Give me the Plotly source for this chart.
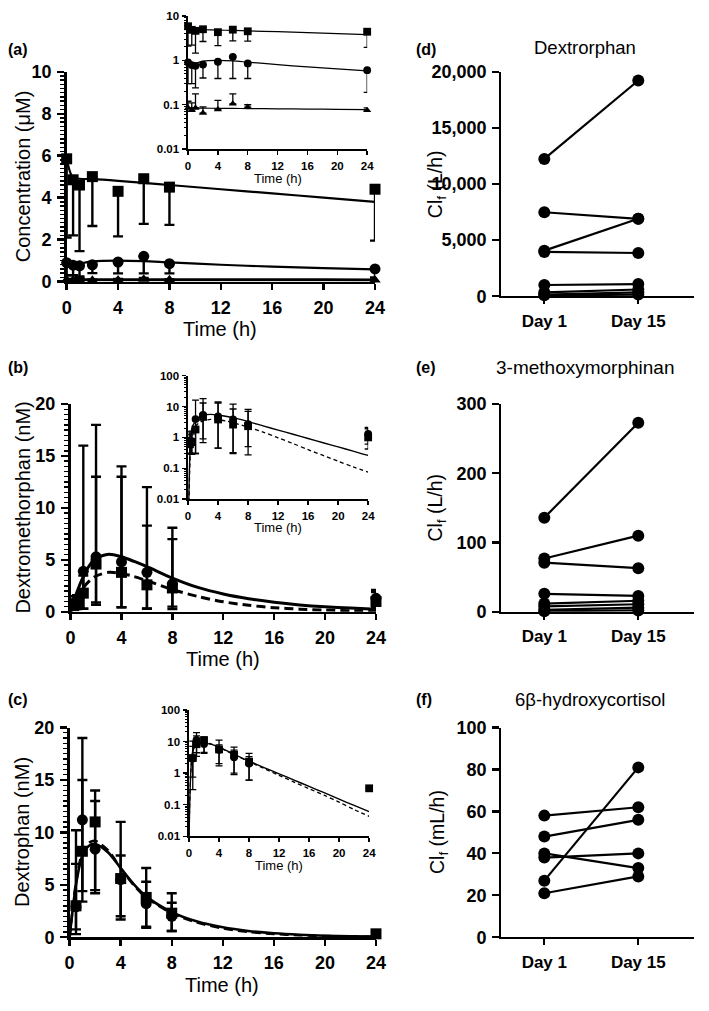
import numpy as np
import plotly.graph_objects as go

W, H = 709, 1011
FONT = "Liberation Sans, Arial, Helvetica, sans-serif"

# ---------------- DATA ----------------
time_ticks = [0, 4, 8, 12, 16, 20, 24]

# (a) concentration (uM): squares, circles, triangles
time_a = [0, 0.5, 1, 2, 4, 6, 8, 24]
sq_a = [5.85, 4.85, 4.6, 5.0, 4.3, 4.9, 4.5, 4.4]
sq_a_low = [2.1, 2.2, 1.45, 2.65, 2.15, 2.75, 2.7, 1.95]
ci_a = [0.9, 0.78, 0.75, 0.8, 0.93, 1.2, 0.85, 0.6]
ci_a_low = [0.3, 0.3, 0.24, 0.4, 0.39, 0.39, 0.39, 0.19]
tr_a = [0.085, 0.075, 0.085, 0.065, 0.078, 0.105, 0.088, 0.075]
tr_a_high = [0.12, 0.11, 0.175, 0.09, 0.125, 0.175, 0.1, 0.085]

fit_t_a = [0, 0.25, 0.5, 1, 2, 4, 6, 8, 12, 16, 20, 24]
fit_sq_a = [5.85, 5.25, 4.95, 4.9, 4.88, 4.8, 4.7, 4.6, 4.4, 4.2, 4.0, 3.8]
fit_ci_a = [0.9, 0.84, 0.8, 0.85, 0.96, 1.0, 0.97, 0.91, 0.8, 0.71, 0.64, 0.58]
fit_tr_a = [0.085, 0.084, 0.084, 0.084, 0.084, 0.083, 0.083, 0.082, 0.081, 0.080, 0.079, 0.078]

# (b) dextromethorphan (nM)
time_b = [0.25, 0.5, 1, 2, 4, 6, 8, 24]
ci_b = [0.8, 0.75, 3.9, 5.3, 4.8, 3.8, 2.7, 1.3]
ci_b_low = [0.3, 0.3, 0.3, 0.9, 0.45, 0.32, 0.27, 0.6]
ci_b_high = [1.5, 1.6, 16.0, 18.0, 14.0, 12.0, 8.1, 2.1]
sq_b = [0.6, 0.7, 1.8, 4.6, 3.8, 2.6, 2.3, 1.0]
sq_b_low = [0.3, 0.28, 0.3, 0.68, 0.45, 0.3, 0.5, 0.42]
sq_b_high = [1.2, 1.3, 3.5, 13.0, 13.0, 8.3, 7.0, 1.9]

fit_t_b = [0, 0.5, 1, 1.5, 2, 3, 4, 5, 6, 8, 10, 12, 14, 16, 18, 20, 22, 24]
fit_ci_b = [0, 1.9, 3.4, 4.5, 5.15, 5.55, 5.3, 4.85, 4.35, 3.25, 2.35, 1.72, 1.26, 0.92, 0.67, 0.49, 0.36, 0.26]
fit_sq_b = [0, 1.2, 2.3, 3.0, 3.45, 3.8, 3.7, 3.4, 3.0, 2.15, 1.48, 0.97, 0.63, 0.4, 0.26, 0.17, 0.11, 0.075]

# (c) dextrophan (nM)
time_c_ci = [0.5, 1, 2, 4, 6, 8]
ci_c = [2.9, 11.2, 8.4, 5.5, 3.2, 2.0]
ci_c_low = [0.3, 3.4, 4.5, 1.7, 0.9, 0.6]
ci_c_high = [7.0, 19.0, 13.0, 11.0, 5.3, 3.3]
time_c_sq = [0.5, 1, 2, 4, 6, 8, 24]
sq_c = [3.0, 8.2, 11.0, 5.6, 3.8, 2.3, 0.33]
sq_c_low = [0.75, 4.4, 4.2, 2.0, 1.0, 0.6, 0.33]
sq_c_high = [10.2, 15.0, 14.0, 7.8, 6.6, 4.2, 0.33]

fit_t_c = [0, 0.5, 1, 1.5, 2, 3, 4, 5, 6, 8, 10, 12, 14, 16, 18, 20, 22, 24]
fit_ci_c = [0, 5.0, 7.8, 8.7, 8.9, 8.1, 6.6, 5.1, 3.9, 2.4, 1.5, 0.95, 0.6, 0.38, 0.24, 0.15, 0.095, 0.06]
fit_sq_c = [0, 5.2, 8.1, 9.0, 9.2, 8.3, 6.6, 5.0, 3.8, 2.3, 1.4, 0.85, 0.52, 0.32, 0.2, 0.12, 0.07, 0.043]

# (d)-(f) paired clearance
days = ["Day 1", "Day 15"]
dex_day1 = [12230, 7480, 4060, 3950, 1000, 350, 150, 80]
dex_day15 = [19220, 6900, 6900, 3850, 1080, 600, 350, 150]
mm_day1 = [136, 77, 71, 26, 12, 8, 3, 1]
mm_day15 = [273, 110, 63, 23, 16, 11, 6, 2]
hc_day1 = [58, 48, 40, 38, 27, 21]
hc_day15 = [62, 56, 33, 40, 81, 29]

# ---------------- FIGURE ----------------
fig = go.Figure()


def xd(a, b):
    return [a / W, b / W]


def yd(top, bottom):
    return [1 - bottom / H, 1 - top / H]


def err_series(ax, t, y, lo, hi, symbol, size, lw, capw):
    plus = [h - v for h, v in zip(hi, y)] if hi is not None else [0] * len(y)
    minus = [v - l for l, v in zip(lo, y)] if lo is not None else [0] * len(y)
    fig.add_trace(go.Scatter(
        x=t, y=y, mode="markers",
        marker=dict(symbol=symbol, size=size, color="black", line=dict(width=0)),
        error_y=dict(type="data", symmetric=False, array=plus, arrayminus=minus,
                     color="black", thickness=lw, width=capw),
        xaxis="x" + ax, yaxis="y" + ax, cliponaxis=False, showlegend=False))


def curve(ax, t, y, width, dash="solid", shape="spline"):
    fig.add_trace(go.Scatter(
        x=t, y=y, mode="lines", line=dict(color="black", width=width, dash=dash,
                                          shape=shape, smoothing=0.8),
        xaxis="x" + ax, yaxis="y" + ax, cliponaxis=False, showlegend=False))


# panel a main (ax '') and inset ('2')
for ax, big in [("", True), ("2", False)]:
    s = 1.0 if big else 0.62
    lw = 2.4 if big else 1.3
    cw = 5 if big else 3.5
    curve(ax, fit_t_a, fit_sq_a, 2.2 if big else 1.2)
    curve(ax, fit_t_a, fit_ci_a, 2.2 if big else 1.2)
    curve(ax, fit_t_a, fit_tr_a, 3.0 if big else 1.2)
    err_series(ax, time_a, sq_a, sq_a_low, None, "square", 11 * s + (1 if not big else 0), lw, cw)
    err_series(ax, time_a, ci_a, ci_a_low, None, "circle", 11 * s + (1 if not big else 0), lw, cw)
    err_series(ax, time_a, tr_a, None, tr_a_high, "triangle-up", 10 * s + (1 if not big else 0), lw, cw)

# panel b main ('3') and inset ('4')
for ax, big in [("3", True), ("4", False)]:
    s = 1.0 if big else 0.62
    lw = 2.4 if big else 1.3
    cw = 5 if big else 3.5
    curve(ax, fit_t_b, fit_ci_b, 3.0 if big else 1.4)
    curve(ax, fit_t_b, fit_sq_b, 3.0 if big else 1.3, dash="9px,5px" if big else "4px,3px")
    err_series(ax, time_b, ci_b, ci_b_low, ci_b_high, "circle", 11 * s + (1 if not big else 0), lw, cw)
    err_series(ax, time_b, sq_b, sq_b_low, sq_b_high, "square", 11 * s + (1 if not big else 0), lw, cw)

# panel c main ('5') and inset ('6')
for ax, big in [("5", True), ("6", False)]:
    s = 1.0 if big else 0.62
    lw = 2.4 if big else 1.3
    cw = 5 if big else 3.5
    curve(ax, fit_t_c, fit_ci_c, 2.6 if big else 1.4)
    curve(ax, fit_t_c, fit_sq_c, 2.6 if big else 1.3, dash="9px,5px" if big else "4px,3px")
    err_series(ax, time_c_ci, ci_c, ci_c_low, ci_c_high, "circle", 11 * s + (1 if not big else 0), lw, cw)
    err_series(ax, time_c_sq, sq_c, sq_c_low, sq_c_high, "square", 11 * s + (1 if not big else 0), lw, cw)

# paired panels d, e, f
for ax, d1, d15 in [("7", dex_day1, dex_day15), ("8", mm_day1, mm_day15), ("9", hc_day1, hc_day15)]:
    for a, b in zip(d1, d15):
        fig.add_trace(go.Scatter(
            x=[0, 1], y=[a, b], mode="lines+markers",
            line=dict(color="black", width=2.2),
            marker=dict(symbol="circle", size=12, color="black"),
            xaxis="x" + ax, yaxis="y" + ax, cliponaxis=False, showlegend=False))

# ---------------- AXES ----------------
TICKBIG = dict(family=FONT, size=18, color="black", weight="bold")
TICKSMALL = dict(family=FONT, size=11.5, color="black", weight="bold")


def main_x(dom, anchor):
    return dict(domain=dom, anchor=anchor, range=[0, 24], tickmode="array", tickvals=time_ticks,
                ticks="outside", ticklen=6, tickwidth=2.4, tickcolor="black",
                showline=True, linewidth=2.6, linecolor="black", showgrid=False, zeroline=False,
                tickfont=TICKBIG, ticklabelstandoff=2)


def main_y(dom, anchor, top, dt, minor_dt):
    return dict(domain=dom, anchor=anchor, range=[0, top], tick0=0, dtick=dt,
                ticks="outside", ticklen=7, tickwidth=2.4, tickcolor="black",
                minor=dict(dtick=minor_dt, tick0=0, ticks="outside", ticklen=4, tickwidth=1.4, tickcolor="black"),
                showline=True, linewidth=2.6, linecolor="black", showgrid=False, zeroline=False,
                tickfont=TICKBIG, ticklabelstandoff=2)


def inset_x(dom, anchor):
    return dict(domain=dom, anchor=anchor, range=[0, 24], tickmode="array", tickvals=time_ticks,
                ticks="outside", ticklen=4, tickwidth=1.4, tickcolor="black",
                showline=True, linewidth=1.6, linecolor="black", showgrid=False, zeroline=False,
                tickfont=TICKSMALL, ticklabelstandoff=1)


def inset_y(dom, anchor, lo, hi, labels):
    vals = [10.0 ** k for k in range(lo, hi + 1)]
    minor_vals = [m * 10.0 ** k for k in range(lo, hi) for m in range(2, 10)]
    return dict(domain=dom, anchor=anchor, type="log", range=[lo, hi], tickmode="array",
                tickvals=vals, ticktext=labels,
                ticks="outside", ticklen=4, tickwidth=1.4, tickcolor="black",
                minor=dict(tickmode="array", tickvals=minor_vals, ticks="outside", ticklen=2.5,
                           tickwidth=1, tickcolor="black"),
                showline=True, linewidth=1.6, linecolor="black", showgrid=False, zeroline=False,
                tickfont=TICKSMALL, ticklabelstandoff=1)


def pair_x(dom, anchor):
    return dict(domain=dom, anchor=anchor, range=[-0.458, 1.594], tickmode="array", tickvals=[0, 1],
                ticktext=days, ticks="outside", ticklen=6, tickwidth=2, tickcolor="black",
                showline=True, linewidth=2.2, linecolor="black", showgrid=False, zeroline=False,
                tickfont=dict(family=FONT, size=17, color="black", weight="bold"), ticklabelstandoff=2)


def pair_y(dom, anchor, top, dt, fmt=None):
    d = dict(domain=dom, anchor=anchor, range=[0, top], tick0=0, dtick=dt,
             ticks="outside", ticklen=7, tickwidth=2.2, tickcolor="black",
             showline=True, linewidth=2.2, linecolor="black", showgrid=False, zeroline=False,
             tickfont=TICKBIG, ticklabelstandoff=2)
    if fmt:
        d["tickformat"] = fmt
    return d


lay = dict(
    xaxis=main_x(xd(63, 378), "y"), yaxis=main_y(yd(63, 277), "x", 10, 2, 0.2),
    xaxis2=inset_x(xd(187, 370), "y2"), yaxis2=inset_y(yd(6, 142), "x2", -2, 1, ["0.01", "0.1", "1", "10"]),
    xaxis3=main_x(xd(67, 379), "y3"), yaxis3=main_y(yd(402, 614), "x3", 20, 5, 0.5),
    xaxis4=inset_x(xd(187, 371), "y4"), yaxis4=inset_y(yd(373, 499), "x4", -2, 2, ["0.01", "0.1", "1", "10", "100"]),
    xaxis5=main_x(xd(66, 379), "y5"), yaxis5=main_y(yd(732, 946), "x5", 20, 5, 0.5),
    xaxis6=inset_x(xd(188, 372), "y6"), yaxis6=inset_y(yd(714, 843), "x6", -2, 2, ["0.01", "0.1", "1", "10", "100"]),
    xaxis7=pair_x(xd(507, 704), "y7"), yaxis7=pair_y(yd(63, 292), "x7", 20000, 5000, ",d"),
    xaxis8=pair_x(xd(507, 704), "y8"), yaxis8=pair_y(yd(402, 614), "x8", 300, 100),
    xaxis9=pair_x(xd(507, 704), "y9"), yaxis9=pair_y(yd(732, 946), "x9", 100, 20),
)
fig.update_layout(**lay)

# ---------------- TEXT ----------------
ann = []


def txt(x, y, s, size, bold=False, angle=0):
    ann.append(dict(x=x / W, y=1 - y / H, xref="paper", yref="paper", text=s, showarrow=False,
                    textangle=angle, xanchor="center", yanchor="middle",
                    font=dict(family=FONT, size=size, color="black", weight="bold" if bold else "normal")))


txt(13, 40, "(a)", 16, True)
txt(13, 365, "(b)", 16, True)
txt(13, 703, "(c)", 16, True)
txt(430, 40, "(d)", 16, True)
txt(430, 365, "(e)", 16, True)
txt(428, 703, "(f)", 16, True)

txt(18, 170, "Concentration (μM)", 20, angle=-90)
txt(18, 508, "Dextromethorphan (nM)", 20, angle=-90)
txt(18, 839, "Dextrophan (nM)", 20, angle=-90)

txt(220, 325, "Time (h)", 20)
txt(223, 662, "Time (h)", 20)
txt(222, 995, "Time (h)", 20)

txt(279, 172, "Time (h)", 13)
txt(279, 528, "Time (h)", 13)
txt(280, 873, "Time (h)", 13)

txt(593, 38, "Dextrorphan", 18.5)
txt(593, 365, "3-methoxymorphinan", 19)
txt(598, 703, "6β-hydroxycortisol", 18.5)

txt(441, 178, "Cl<sub>f</sub> (L/h)", 19.5, angle=-90)
txt(441, 508, "Cl<sub>f</sub> (L/h)", 19.5, angle=-90)
txt(443, 839, "Cl<sub>f</sub> (mL/h)", 19.5, angle=-90)

fig.update_layout(
    width=W, height=H, autosize=False,
    margin=dict(l=0, r=0, t=0, b=0),
    paper_bgcolor="white", plot_bgcolor="rgba(0,0,0,0)",
    showlegend=False, annotations=ann,
    font=dict(family=FONT, color="black"),
)

fig.write_html("out.html",
               config={"displayModeBar": False, "staticPlot": True},
               post_script="document.body.style.margin='0';document.body.style.overflow='hidden';")
